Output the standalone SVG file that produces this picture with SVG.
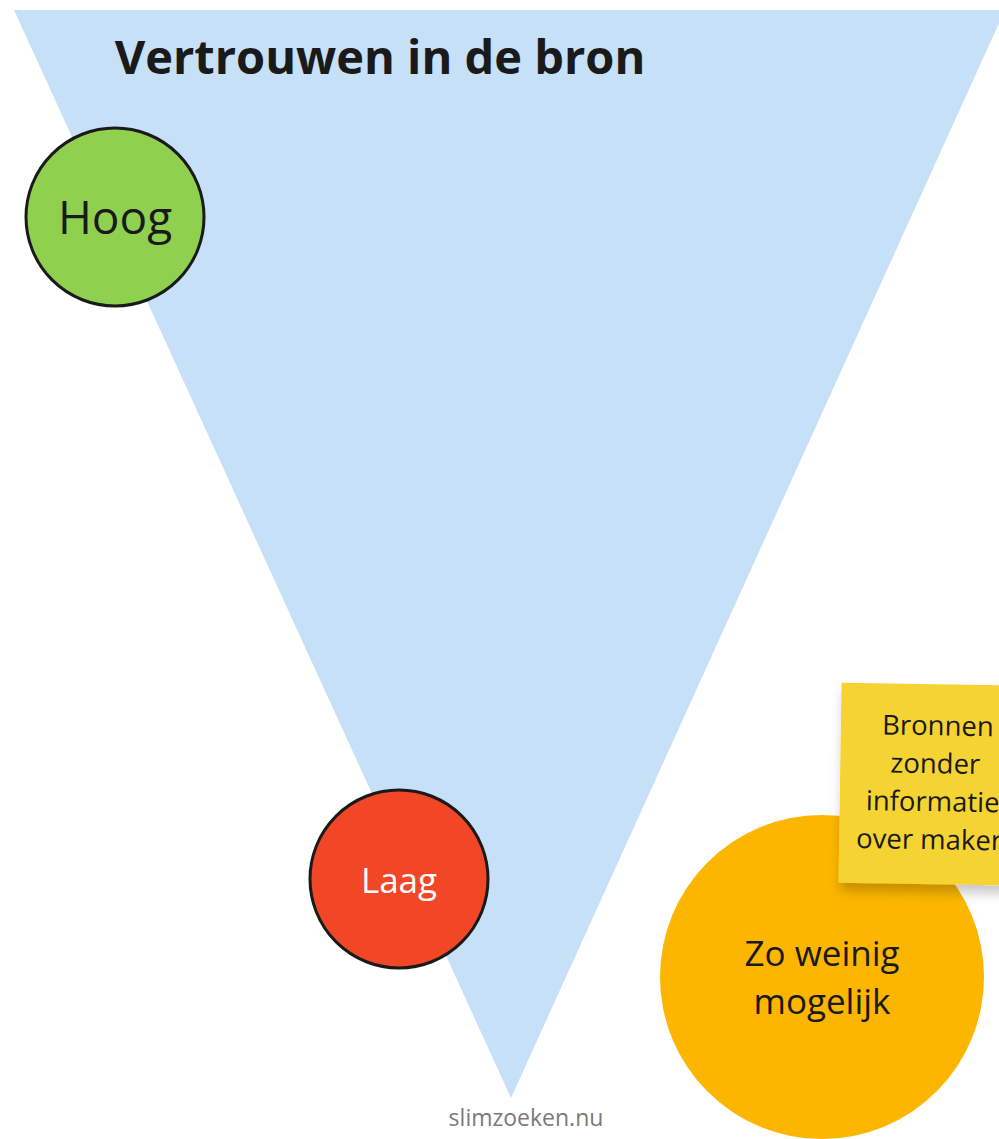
<svg xmlns="http://www.w3.org/2000/svg" width="999" height="1139" viewBox="0 0 999 1139">
<defs>
<style>
text{font-family:"Open Sans","Noto Sans","Liberation Sans",sans-serif;fill:#1a1a1a;text-anchor:middle}
.circ{stroke:#1a1a1a;stroke-width:3}
</style>
<filter id="sh" x="-20%" y="-20%" width="140%" height="150%">
<feDropShadow dx="2" dy="8" stdDeviation="6" flood-color="#000" flood-opacity="0.22"/>
</filter>
</defs>
<rect width="999" height="1139" fill="#fff"/>
<g id="funnel">
<polygon points="14,10 1005,10 511,1098" fill="#c5e0f7"/>
</g>
<g id="title">
<text x="380" y="74" font-size="47" font-weight="700">Vertrouwen in de bron</text>
</g>
<g id="hoog">
<circle class="circ" cx="115" cy="217" r="89" fill="#8fd14f"/>
<text x="115" y="234" font-size="46">Hoog</text>
</g>
<g id="laag">
<circle class="circ" cx="399" cy="879" r="89" fill="#f24726"/>
<text x="399" y="893" font-size="35" style="fill:#fff">Laag</text>
</g>
<g id="weinig">
<circle cx="822" cy="977" r="162" fill="#fcb600"/>
<text x="822" y="966" font-size="35">Zo weinig</text>
<text x="822" y="1014" font-size="35">mogelijk</text>
</g>
<g id="sticky" transform="rotate(0.9 920 785)">
<rect x="840" y="684" width="175" height="200" fill="#f5d333" filter="url(#sh)"/>
<text x="937" y="735" font-size="27.5">Bronnen</text>
<text x="935" y="773" font-size="27.5">zonder</text>
<text x="933" y="811" font-size="27.5">informatie</text>
<text x="930" y="849" font-size="27.5">over maker</text>
</g>
<g id="connectors"></g>
<g id="footer">
<text x="526" y="1126" font-size="23" style="fill:#7a7a7a">slimzoeken.nu</text>
</g>
</svg>
